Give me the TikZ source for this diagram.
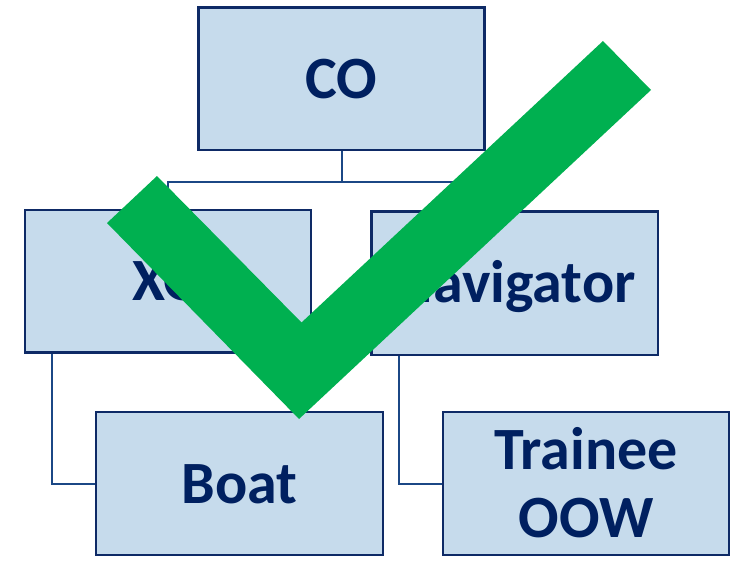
\documentclass[tikz,border=0pt]{standalone}
\usepackage{fontspec}
\setmainfont{Carlito}
\definecolor{boxfill}{HTML}{C6DBEC}
\definecolor{boxline}{HTML}{0E2A66}
\definecolor{linkline}{HTML}{1B4785}
\definecolor{textnavy}{HTML}{002060}
\definecolor{tickgreen}{HTML}{00B050}
\tikzset{
  orgbox/.style={draw=boxline, line width=2.6pt, fill=boxfill, inner sep=0pt,
    text=textnavy, font=\bfseries\fontsize{60}{68}\selectfont, align=center,
    text height=39pt, text depth=0pt},
  link/.style={draw=linkline, line width=2pt},
}
\begin{document}
\begin{tikzpicture}[x=1pt,y=-1pt]
\useasboundingbox (0,0) rectangle (731,563);

% boxes of the chart
\node[orgbox, minimum width=286pt, minimum height=142.6pt] (co)  at (341.6,78.5)  {CO};
\node[orgbox, minimum width=286pt, minimum height=142.5pt] (xo)  at (168,281.2)   {XO};
\node[orgbox, minimum width=286.5pt, minimum height=143.5pt] (nav) at (514.7,283.2) {Navigator};
\node[orgbox, minimum width=287pt, minimum height=143pt] (boat) at (239.5,483.5) {Boat};
\node[orgbox, minimum width=286pt, minimum height=143pt, text height=107pt] (oow) at (586,483.5) {Trainee\\OOW};

% connectors
\coordinate (split) at (341.6,181.5);
\draw[link] (co.south) -- (split) -| (xo.north);
\draw[link] (split) -| (nav.north);
\draw[link] ([xshift=28.7pt]xo.south west) |- (boat.west);
\draw[link] ([xshift=29pt]nav.south west) |- (oow.west);

% check mark drawn over the chart
\fill[tickgreen] (107,223) -- (157,176) -- (301.5,322.5) -- (603,41) -- (651,90) -- (299,419) -- cycle;
\end{tikzpicture}
\end{document}
